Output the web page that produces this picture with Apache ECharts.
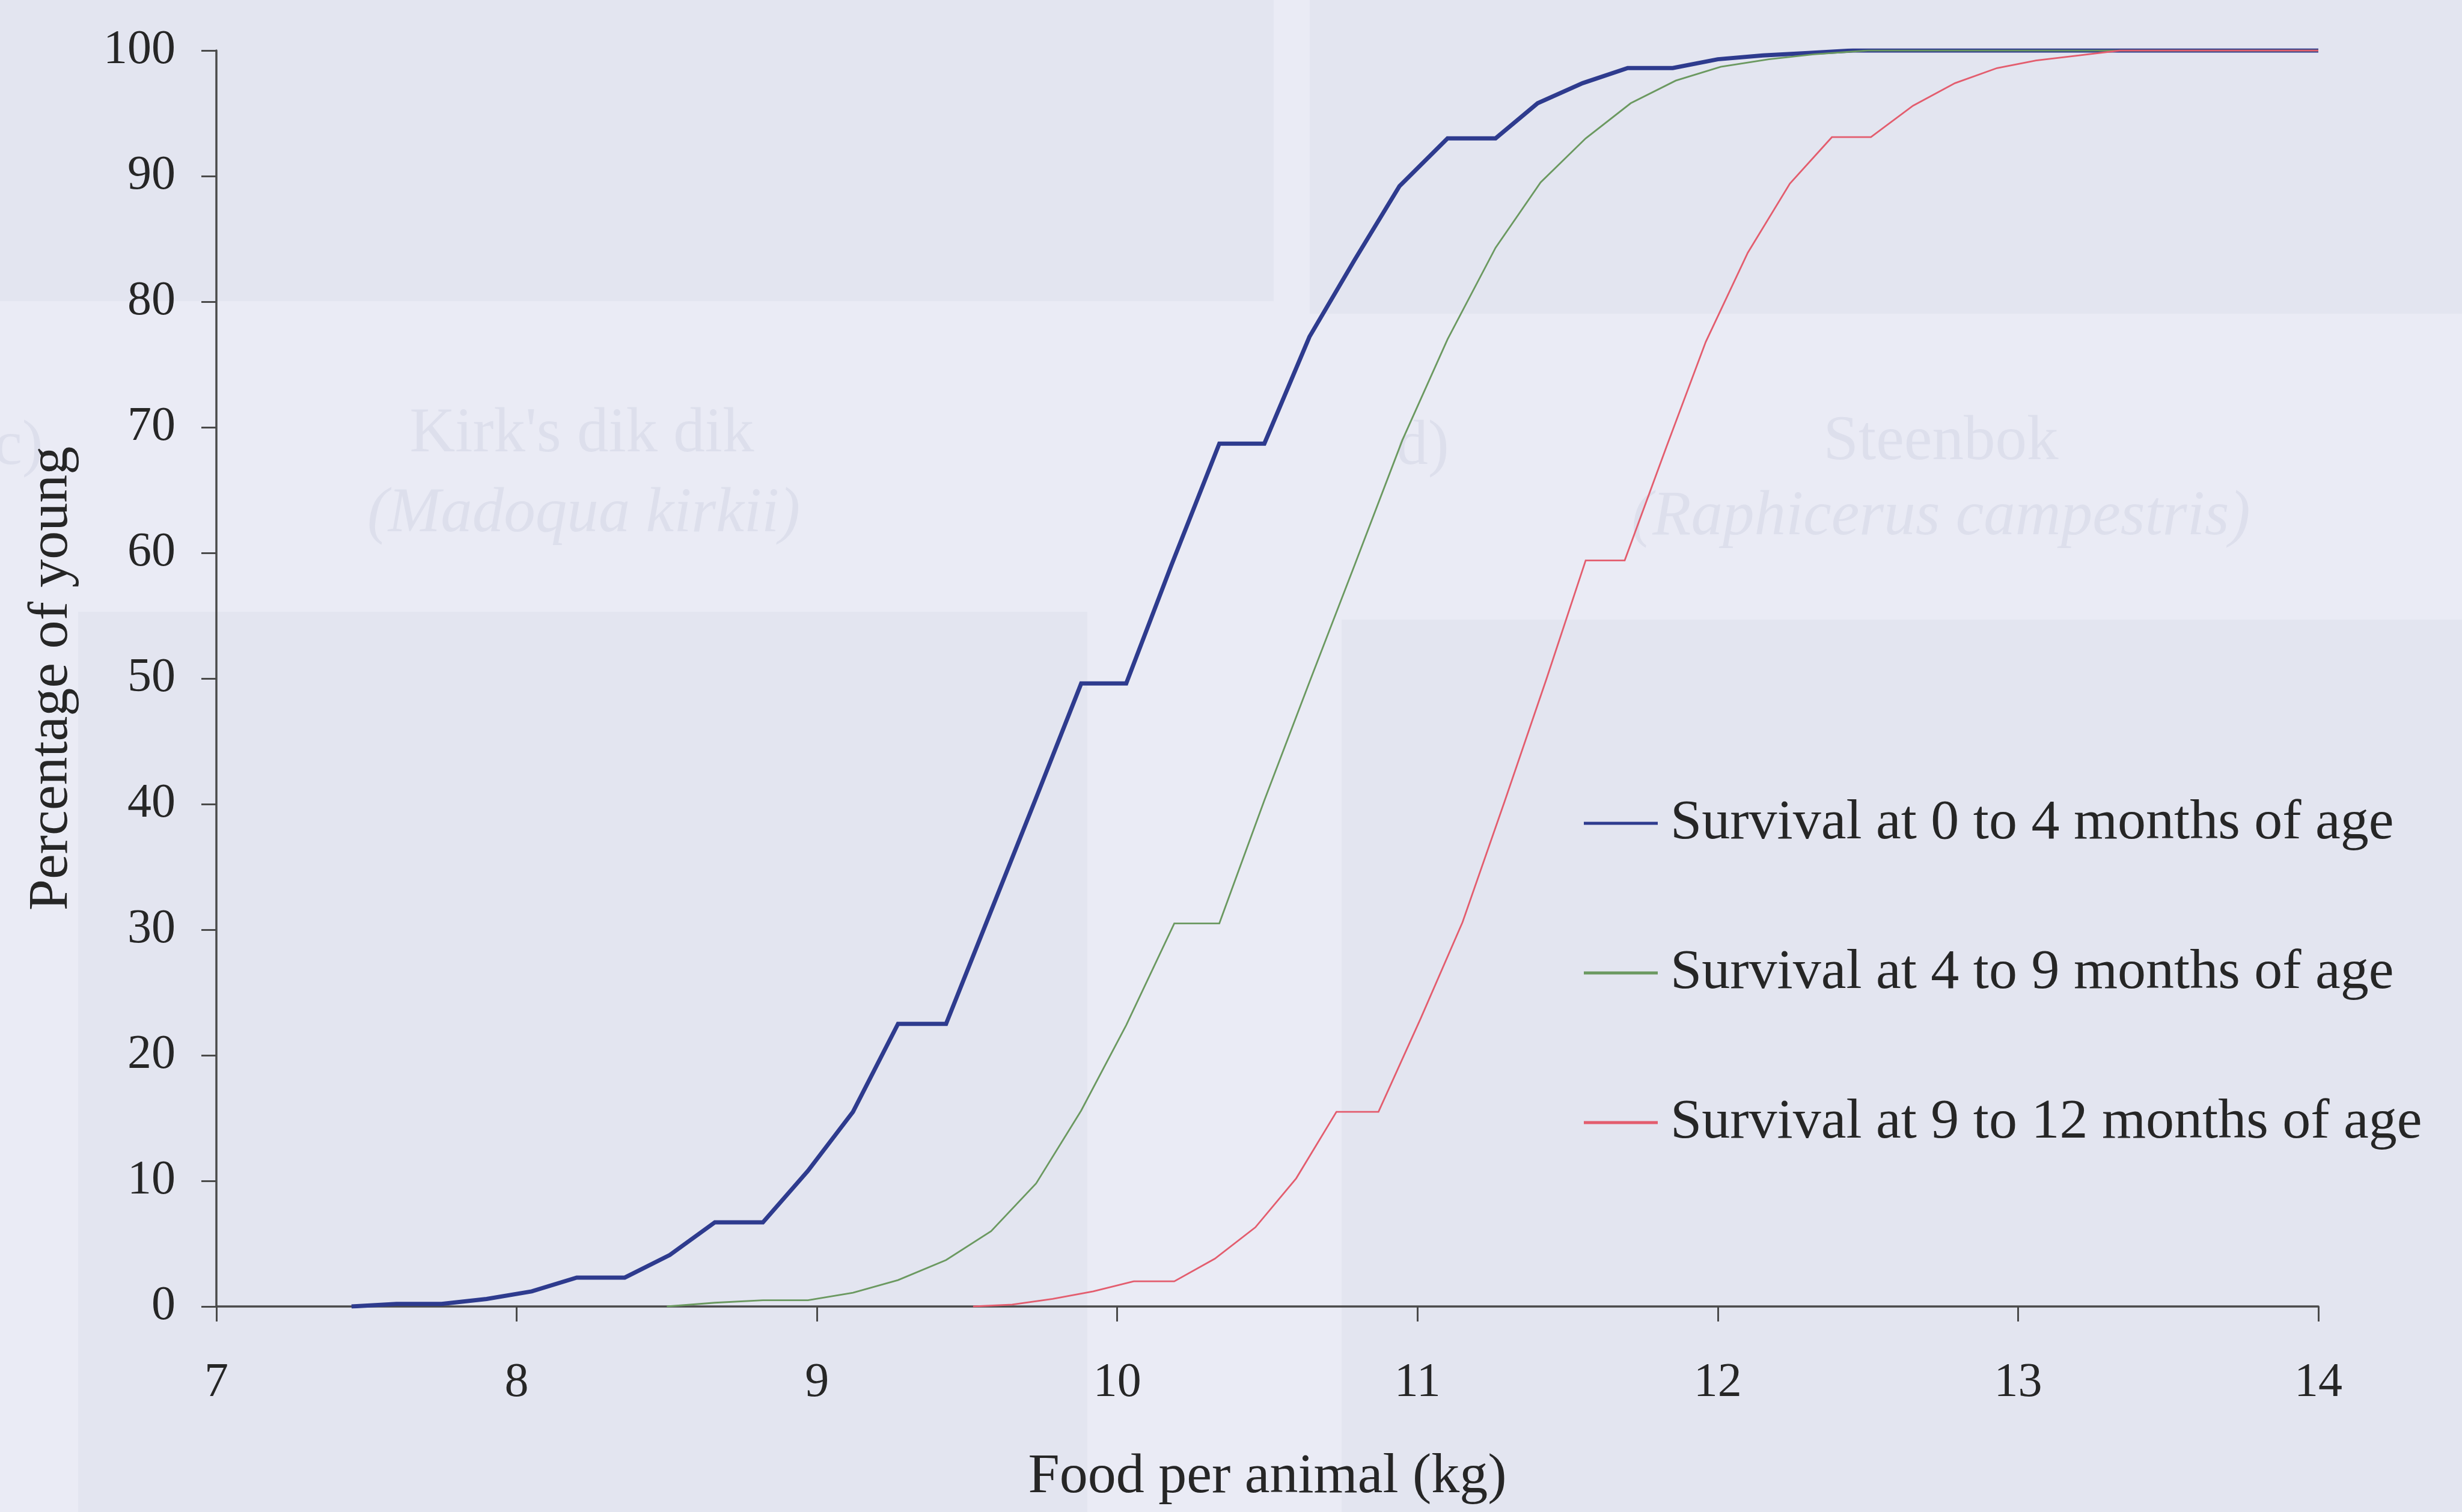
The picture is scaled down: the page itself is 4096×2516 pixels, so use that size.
<!DOCTYPE html>
<html>
<head>
<meta charset="utf-8">
<script src="https://cdn.jsdelivr.net/npm/echarts@6/dist/echarts.min.js"></script>
<style>
  html, body { margin: 0; padding: 0; background: #eaebf5; }
  #chart { width: 4096px; height: 2516px; }
</style>
</head>
<body>
<div id="chart"></div>
<script>
// Survival of young against food per animal (kg)
const seriesNames = [
  'Survival at 0 to 4 months of age',
  'Survival at 4 to 9 months of age',
  'Survival at 9 to 12 months of age'
];

// 0 to 4 months
const earlyX = [7.45, 7.60, 7.75, 7.90, 8.05, 8.20, 8.36, 8.51, 8.66, 8.82, 8.97, 9.12, 9.27, 9.43, 9.58, 9.73, 9.88, 10.03, 10.18, 10.34, 10.49, 10.64, 10.79, 10.94, 11.10, 11.26, 11.40, 11.55, 11.70, 11.85, 12.00, 12.15, 12.30, 12.45, 14.00];
const earlyY = [0, 0.2, 0.2, 0.6, 1.2, 2.3, 2.3, 4.1, 6.7, 6.7, 10.8, 15.5, 22.5, 22.5, 31.5, 40.5, 49.6, 49.6, 59.0, 68.7, 68.7, 77.2, 83.3, 89.2, 93.0, 93.0, 95.8, 97.4, 98.6, 98.6, 99.3, 99.6, 99.8, 100, 100];

// 4 to 9 months
const midX = [8.50, 8.66, 8.82, 8.97, 9.12, 9.27, 9.43, 9.58, 9.73, 9.88, 10.03, 10.19, 10.34, 10.49, 10.64, 10.79, 10.95, 11.10, 11.26, 11.41, 11.56, 11.71, 11.86, 12.01, 12.17, 12.32, 12.50, 14.00];
const midY = [0, 0.3, 0.5, 0.5, 1.1, 2.1, 3.7, 6.0, 9.8, 15.6, 22.4, 30.5, 30.5, 40.3, 49.7, 59.0, 69.0, 77.0, 84.3, 89.5, 93.0, 95.8, 97.6, 98.7, 99.3, 99.7, 100, 100];

// 9 to 12 months
const lateX = [9.52, 9.65, 9.785, 9.92, 10.055, 10.19, 10.325, 10.46, 10.596, 10.73, 10.87, 11.01, 11.15, 11.29, 11.43, 11.56, 11.69, 11.83, 11.96, 12.10, 12.24, 12.38, 12.51, 12.65, 12.79, 12.93, 13.06, 13.20, 13.34, 14.00];
const lateY = [0, 0.15, 0.6, 1.2, 2.0, 2.0, 3.8, 6.3, 10.2, 15.5, 15.5, 22.9, 30.6, 40.2, 50.0, 59.4, 59.4, 68.5, 76.8, 83.9, 89.4, 93.1, 93.1, 95.6, 97.4, 98.6, 99.2, 99.6, 100, 100];

const xTickMin = 7, xTickMax = 14, xTickStep = 1;
const yTickMin = 0, yTickMax = 100, yTickStep = 10;

const lineColors = ['#2e3b8e', '#6b9960', '#e35d6e'];
const lineWidths = [7, 2.8, 2.8];

const FONT = '"Liberation Serif", "DejaVu Serif", serif';
const INK = '#262626';

function zip(xs, ys) { return xs.map((x, i) => [x, ys[i]]); }
const seriesData = [zip(earlyX, earlyY), zip(midX, midY), zip(lateX, lateY)];

// Faint page backdrop: shaded panels and show-through lettering
const backdrop = [
  { type: 'rect', shape: { x: 0, y: 0, width: 2119, height: 501 } },
  { type: 'rect', shape: { x: 2179, y: 0, width: 1917, height: 522 } },
  { type: 'rect', shape: { x: 130, y: 1018, width: 1679, height: 1498 } },
  { type: 'rect', shape: { x: 2232, y: 1031, width: 1864, height: 1485 } }
].map(r => Object.assign(r, { z: -100, silent: true, style: { fill: '#e3e5f0' } }));

const ghostText = [
  { text: "Kirk's dik dik", x: 968, y: 723, italic: false },
  { text: '(Madoqua kirkii)', x: 971, y: 856, italic: true },
  { text: 'c)', x: 31, y: 744, italic: false },
  { text: 'd)', x: 2367, y: 744, italic: false },
  { text: 'Steenbok', x: 3229, y: 736, italic: false },
  { text: '(Raphicerus campestris)', x: 3229, y: 861, italic: true }
].map(t => ({
  type: 'text', z: -90, silent: true, x: t.x, y: t.y,
  style: {
    text: t.text, fill: '#dddfec', font: (t.italic ? 'italic ' : '') + '105px ' + FONT,
    textAlign: 'center', textVerticalAlign: 'middle'
  }
}));

const chart = echarts.init(document.getElementById('chart'));
chart.setOption({
  animation: false,
  backgroundColor: 'transparent',
  textStyle: { fontFamily: FONT, color: INK },
  graphic: backdrop.concat(ghostText),
  grid: { left: 360, right: 239, top: 84, bottom: 342, outerBoundsMode: 'none' },
  legend: {
    orient: 'vertical',
    left: 2630,
    top: 1318,
    itemWidth: 123,
    itemHeight: 5,
    itemGap: 155,
    icon: 'rect',
    data: seriesNames,
    textStyle: { fontFamily: FONT, fontSize: 94, lineHeight: 93, color: INK, padding: [0, 0, 0, 16] }
  },
  xAxis: {
    type: 'value',
    min: xTickMin, max: xTickMax, interval: xTickStep,
    name: 'Food per animal (kg)',
    nameLocation: 'middle',
    nameGap: 237,
    nameTextStyle: { fontFamily: FONT, fontSize: 94, color: INK },
    axisLine: { show: true, onZero: false, lineStyle: { color: '#4a4a4a', width: 3.5 } },
    axisTick: { show: true, inside: false, length: 25, lineStyle: { color: '#4a4a4a', width: 3 } },
    axisLabel: { fontFamily: FONT, fontSize: 80, color: INK, margin: 88 },
    splitLine: { show: false }
  },
  yAxis: {
    type: 'value',
    min: yTickMin, max: yTickMax, interval: yTickStep,
    name: 'Percentage of young',
    nameLocation: 'middle',
    nameRotate: 90,
    nameGap: 227,
    nameTextStyle: { fontFamily: FONT, fontSize: 94, color: INK },
    axisLine: { show: true, lineStyle: { color: '#4a4a4a', width: 3.5 } },
    axisTick: { show: true, inside: false, length: 25, lineStyle: { color: '#4a4a4a', width: 3 } },
    axisLabel: { fontFamily: FONT, fontSize: 80, color: INK, margin: 68 },
    splitLine: { show: false }
  },
  series: seriesNames.map((name, i) => ({
    name: name,
    type: 'line',
    data: seriesData[i],
    symbol: 'none',
    showSymbol: false,
    smooth: false,
    z: 2 + i,
    color: lineColors[i],
    lineStyle: { color: lineColors[i], width: lineWidths[i], join: 'miter' }
  }))
});
</script>
</body>
</html>
